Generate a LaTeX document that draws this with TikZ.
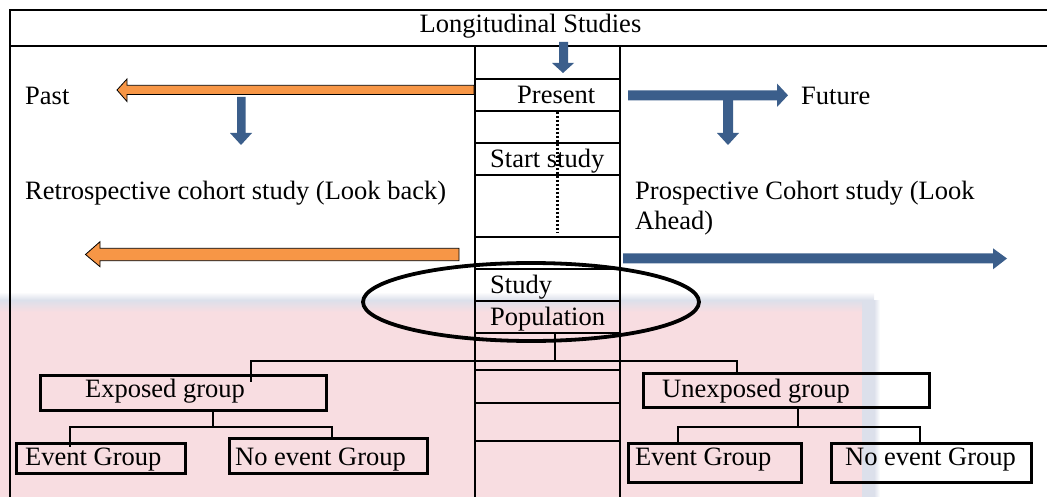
\documentclass[tikz,border=0pt]{standalone}
\usepackage{fontspec}
\setmainfont{Liberation Serif}
\definecolor{myorange}{RGB}{247,150,70}
\definecolor{myblue}{RGB}{59,94,139}
\definecolor{wmpink}{RGB}{248,221,225}
\definecolor{wmblue}{RGB}{220,224,235}
\begin{document}
\begin{tikzpicture}[x=1pt,y=-1pt,
  gridline/.style={line width=1.8pt},
  txt/.style={font=\fontsize{26.5}{31}\selectfont, inner sep=0pt, anchor=base west},
  grpbox/.style={draw, line width=2.5pt, inner sep=0pt, anchor=north west},
  conn/.style={line width=1.6pt},
  orangeblk/.style={fill=myorange, draw=black, line width=0.8pt, line join=miter},
  blueblk/.style={fill=myblue}]
\useasboundingbox (0,0) rectangle (1047,497);
% faint background watermark area
\shade[top color=white, bottom color=wmblue] (0,292) rectangle (874,300);
\fill[wmblue] (0,300) rectangle (874,497);
\shade[left color=wmblue, right color=white] (874,300) rectangle (880,497);
\shade[top color=wmblue, bottom color=wmpink] (0,300) rectangle (862,312);
\fill[wmpink] (0,312) rectangle (862,497);

% frame
\draw[gridline] (10,497) -- (10,10) -- (1047,10);
\draw[gridline] (10,46) -- (1047,46);
\node[font=\fontsize{26.5}{31}\selectfont, inner sep=0pt, anchor=base] (title) at (530.5,33) {Longitudinal Studies};

% central column
\draw[gridline] (475,46) -- (475,497);
\draw[gridline] (620,46) -- (620,497);
\foreach \yy in {79,111,143,175,237,269,301,333,370,403,441}
  \draw[gridline] (475,\yy) -- (620,\yy);
\draw[line width=2.2pt, dash pattern=on 2pt off 2pt] (557.5,112) -- (557.5,233);

% block arrows
\fill[blueblk] (559,42) -- (568,42) -- (568,63) -- (574,63) -- (563,73) -- (552,63) -- (559,63) -- cycle;
\filldraw[orangeblk] (474,85.3) -- (127,85.3) -- (127,79) -- (117,90) -- (127,101.5) -- (127,94.5) -- (474,94.5) -- cycle;
\fill[blueblk] (628,90.5) -- (777,90.5) -- (777,83.5) -- (788,95.3) -- (777,107) -- (777,100.5) -- (628,100.5) -- cycle;
\fill[blueblk] (237,97) -- (245.5,97) -- (245.5,133) -- (252,133) -- (241,145) -- (230,133) -- (237,133) -- cycle;
\fill[blueblk] (723,100) -- (733,100) -- (733,133) -- (739,133) -- (728,145) -- (717,133) -- (723,133) -- cycle;
\filldraw[orangeblk] (459,248.3) -- (100,248.3) -- (100,241.7) -- (85.5,254.5) -- (100,266.7) -- (100,260.7) -- (459,260.7) -- cycle;
\fill[blueblk] (623,253.3) -- (993,253.3) -- (993,248.3) -- (1007,258.5) -- (993,269.3) -- (993,263.3) -- (623,263.3) -- cycle;

% texts upper part
\node[txt] (past) at (25,105) {Past};
\node[txt] (present) at (517,104) {Present};
\node[txt] (future) at (801,105) {Future};
\node[txt] (start) at (490,168) {Start study};
\node[txt] (retro) at (25,200) {Retrospective cohort study (Look back)};
\node[txt] (prosp1) at (635,200) {Prospective Cohort study (Look};
\node[txt] (prosp2) at (635,230) {Ahead)};
\node[txt] (study) at (490,293) {Study};
\node[txt] (popl) at (490,325) {Population};

% study population ellipse
\draw[line width=3.8pt] (531,302) ellipse [x radius=168pt, y radius=39pt];

% group boxes
\node[grpbox, minimum width=286pt, minimum height=35pt] (exp) at (39,374) {};
\node[grpbox, minimum width=286pt, minimum height=34pt] (unexp) at (642,372) {};
\node[grpbox, minimum width=169pt, minimum height=30pt] (evL) at (15,442) {};
\node[grpbox, minimum width=198pt, minimum height=35pt] (noevL) at (228,437) {};
\node[grpbox, minimum width=173pt, minimum height=39pt] (evR) at (627,442) {};
\node[grpbox, minimum width=200pt, minimum height=39pt] (noevR) at (830,442) {};

\node[txt] (explbl) at (85,397) {Exposed group};
\node[txt] (unexplbl) at (662,397) {Unexposed group};
\node[txt] (evLlbl) at (25,465) {Event Group};
\node[txt] (noevLlbl) at (235,465) {No event Group};
\node[txt] (evRlbl) at (635,465) {Event Group};
\node[txt] (noevRlbl) at (845,465) {No event Group};

% connectors
\coordinate (popbot) at (555,333);
\coordinate (br0) at (555,361);
\coordinate (expin) at (251,382);
\coordinate (unexpin) at (737,372);
\draw[conn] (popbot) -- (br0);
\draw[conn] (br0) -| (expin);
\draw[conn] (br0) -| (unexpin);

\coordinate (expout) at (213,409);
\coordinate (br1) at (213,427);
\coordinate (evLin) at (70,447);
\coordinate (noevLin) at (332,438);
\draw[conn] (expout) -- (br1);
\draw[conn] (br1) -| (evLin);
\draw[conn] (br1) -| (noevLin);

\coordinate (unexpout) at (798,406);
\coordinate (br2) at (798,427);
\coordinate (evRin) at (678,443);
\coordinate (noevRin) at (920,442);
\draw[conn] (unexpout) -- (br2);
\draw[conn] (br2) -| (evRin);
\draw[conn] (br2) -| (noevRin);
\end{tikzpicture}
\end{document}
